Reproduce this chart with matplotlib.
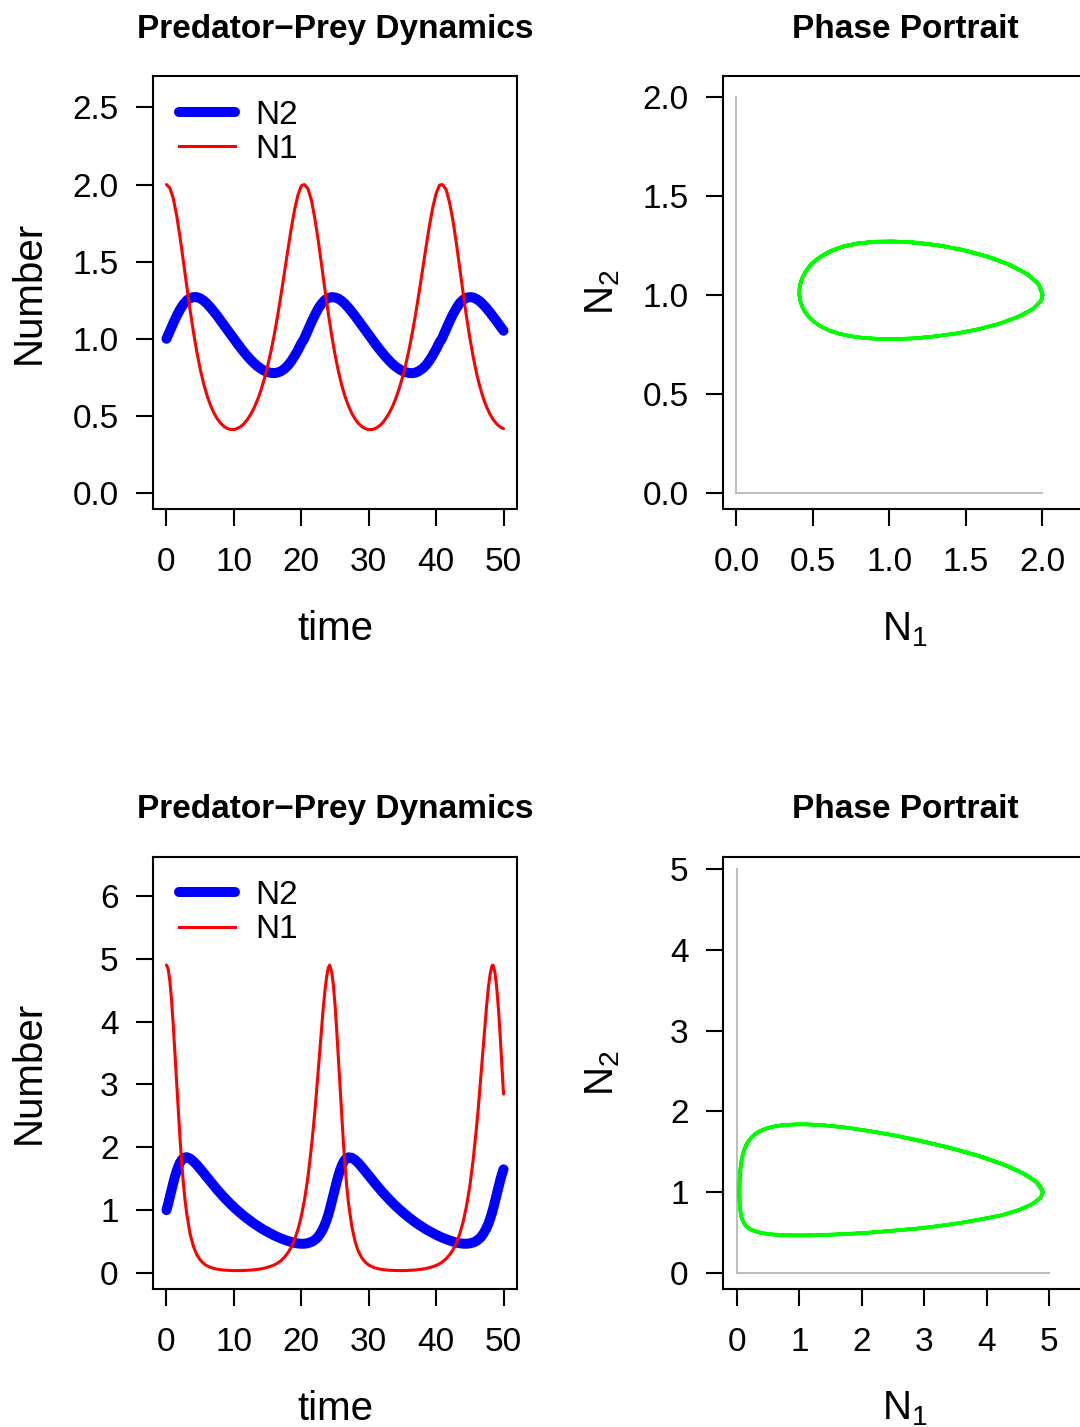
import matplotlib
matplotlib.use('Agg')
import matplotlib.pyplot as plt
from matplotlib.lines import Line2D

plt.rcParams['font.family'] = ['Liberation Sans', 'DejaVu Sans']
plt.rcParams['mathtext.fontset'] = 'custom'
plt.rcParams['mathtext.rm'] = 'Liberation Sans'
plt.rcParams['mathtext.it'] = 'Liberation Sans:italic'
plt.rcParams['mathtext.bf'] = 'Liberation Sans:bold'

# ---------------- data: top row (N1(0)=2, N2(0)=1) ----------------
top_time = [0, 0.5, 1, 1.5, 2, 2.5, 3, 3.5, 4, 4.5, 5, 5.5, 6, 6.5, 7, 7.5, 8, 8.5, 9, 9.5,
            10, 10.5, 11, 11.5, 12, 12.5, 13, 13.5, 14, 14.5, 15, 15.5, 16, 16.5, 17, 17.5,
            18, 18.5, 19, 19.5, 20, 20.43, 20.5,
            21, 21.5, 22, 22.5, 23, 23.5, 24, 24.5, 25, 25.5, 26, 26.5, 27, 27.5, 28, 28.5,
            29, 29.5, 30, 30.5, 31, 31.5, 32, 32.5, 33, 33.5, 34, 34.5, 35, 35.5, 36, 36.5,
            37, 37.5, 38, 38.5, 39, 39.5, 40, 40.5, 40.86,
            41, 41.5, 42, 42.5, 43, 43.5, 44, 44.5, 45, 45.5, 46, 46.5, 47, 47.5, 48, 48.5,
            49, 49.5, 50]
top_n1 = [2.000, 1.978, 1.911, 1.802, 1.662, 1.505, 1.343, 1.187, 1.043, 0.915,
          0.804, 0.711, 0.634, 0.572, 0.522, 0.483, 0.454, 0.433, 0.419, 0.412,
          0.411, 0.418, 0.430, 0.449, 0.476, 0.510, 0.552, 0.603, 0.665, 0.737,
          0.822, 0.919, 1.029, 1.153, 1.287, 1.430, 1.574, 1.713, 1.836, 1.932,
          1.992, 2.000, 1.999,
          1.972, 1.899, 1.784, 1.641, 1.482, 1.320, 1.166, 1.024, 0.898, 0.790,
          0.699, 0.624, 0.564, 0.516, 0.478, 0.450, 0.430, 0.417, 0.411, 0.411,
          0.419, 0.432, 0.452, 0.480, 0.515, 0.558, 0.611, 0.674, 0.748, 0.834,
          0.933, 1.046, 1.171, 1.307, 1.450, 1.594, 1.731, 1.851, 1.942, 1.996, 2.000,
          1.998, 1.966, 1.882, 1.766, 1.620, 1.460, 1.299, 1.146, 1.006, 0.883,
          0.776, 0.688, 0.615, 0.557, 0.510, 0.474, 0.447, 0.428, 0.417]
top_n2 = [1.000, 1.050, 1.100, 1.147, 1.189, 1.223, 1.248, 1.264, 1.270, 1.270,
          1.262, 1.248, 1.228, 1.204, 1.178, 1.150, 1.120, 1.090, 1.060, 1.030,
          1.000, 0.970, 0.941, 0.913, 0.887, 0.863, 0.841, 0.822, 0.806, 0.793,
          0.784, 0.779, 0.777, 0.781, 0.790, 0.805, 0.826, 0.854, 0.888, 0.926,
          0.970, 1.000, 1.007,
          1.057, 1.107, 1.153, 1.195, 1.227, 1.251, 1.264, 1.270, 1.268, 1.260,
          1.245, 1.225, 1.201, 1.174, 1.146, 1.116, 1.086, 1.056, 1.026, 0.996,
          0.966, 0.937, 0.910, 0.884, 0.860, 0.838, 0.819, 0.804, 0.791, 0.783,
          0.778, 0.777, 0.781, 0.792, 0.807, 0.829, 0.858, 0.893, 0.932, 0.977, 1.000,
          1.014, 1.064, 1.113, 1.159, 1.197, 1.231, 1.252, 1.266, 1.270, 1.268,
          1.257, 1.243, 1.221, 1.197, 1.170, 1.141, 1.112, 1.082, 1.052]

# ---------------- data: bottom row (N1(0)=4.9, N2(0)=1) ----------------
bot_time = [0.0, 0.25, 0.5, 0.75, 1.0, 1.25, 1.5, 1.75, 2.0, 2.25, 2.5, 2.75, 3.0,
            3.5, 4.0, 4.5, 5.0, 5.5, 6.0, 6.5, 7.0, 7.5, 8.0, 8.5, 9.0, 9.5,
            10.0, 10.5, 11.0, 11.5, 12.0, 12.5, 13.0, 13.5, 14.0, 14.5,
            15.0, 15.5, 16.0, 16.5, 17.0, 17.5, 18.0, 18.5, 19.0, 19.5,
            20.0, 20.5, 21.0, 21.5, 21.75, 22.0, 22.25, 22.5, 22.75, 23.0,
            23.25, 23.5, 23.75, 24.0, 24.2,
            24.5, 24.75, 25.0, 25.25, 25.5, 25.75, 26.0, 26.25, 26.5, 26.75, 27.0,
            27.5, 28.0, 28.5, 29.0, 29.5, 30.0, 30.5, 31.0, 31.5, 32.0,
            32.5, 33.0, 33.5, 34.0, 34.5, 35.0, 35.5, 36.0, 36.5, 37.0,
            37.5, 38.0, 38.5, 39.0, 39.5, 40.0, 40.5, 41.0, 41.5, 42.0,
            42.5, 43.0, 43.5, 44.0, 44.5, 45.0, 45.5, 45.75, 46.0, 46.25,
            46.5, 46.75, 47.0, 47.25, 47.5, 47.75, 48.0, 48.25, 48.4,
            48.5, 48.75, 49.0, 49.25, 49.5, 49.75, 50.0]
bot_n1 = [4.900, 4.839, 4.646, 4.346, 3.955, 3.506, 3.038, 2.588, 2.147, 1.768, 1.430, 1.161, 0.944,
          0.624, 0.422, 0.291, 0.208, 0.152, 0.115, 0.090, 0.073, 0.061, 0.053, 0.046, 0.043, 0.040,
          0.038, 0.038, 0.038, 0.040, 0.043, 0.046, 0.051, 0.058, 0.065, 0.076,
          0.091, 0.108, 0.129, 0.159, 0.197, 0.251, 0.319, 0.409, 0.530, 0.691,
          0.902, 1.178, 1.538, 2.003, 2.270, 2.555, 2.876, 3.204, 3.543, 3.871,
          4.213, 4.483, 4.707, 4.860, 4.900,
          4.801, 4.589, 4.271, 3.868, 3.411, 2.942, 2.498, 2.065, 1.696, 1.372, 1.114,
          0.736, 0.491, 0.337, 0.236, 0.171, 0.128, 0.099, 0.079, 0.065, 0.055,
          0.049, 0.044, 0.041, 0.039, 0.038, 0.038, 0.039, 0.042, 0.045, 0.048,
          0.055, 0.062, 0.071, 0.085, 0.101, 0.120, 0.146, 0.181, 0.228, 0.290,
          0.369, 0.477, 0.621, 0.811, 1.059, 1.383, 1.804, 2.056, 2.324, 2.616,
          2.941, 3.273, 3.607, 3.941, 4.266, 4.538, 4.745, 4.878, 4.900,
          4.890, 4.765, 4.533, 4.198, 3.781, 3.318, 2.849]
bot_n2 = [1.000, 1.102, 1.211, 1.321, 1.430, 1.530, 1.619, 1.694, 1.755, 1.798, 1.826, 1.839, 1.842,
          1.821, 1.776, 1.721, 1.658, 1.592, 1.524, 1.458, 1.392, 1.328, 1.267, 1.208, 1.153, 1.098,
          1.048, 0.997, 0.951, 0.906, 0.864, 0.824, 0.785, 0.750, 0.715, 0.683,
          0.654, 0.625, 0.596, 0.572, 0.549, 0.529, 0.510, 0.493, 0.479, 0.470,
          0.465, 0.466, 0.475, 0.494, 0.509, 0.527, 0.549, 0.578, 0.615, 0.659,
          0.709, 0.771, 0.843, 0.923, 1.000,
          1.124, 1.233, 1.343, 1.450, 1.549, 1.634, 1.707, 1.763, 1.805, 1.829, 1.840,
          1.833, 1.797, 1.745, 1.684, 1.619, 1.552, 1.484, 1.418, 1.354, 1.291,
          1.232, 1.175, 1.120, 1.067, 1.017, 0.969, 0.924, 0.881, 0.840, 0.799,
          0.764, 0.729, 0.695, 0.666, 0.637, 0.607, 0.582, 0.558, 0.537, 0.518,
          0.499, 0.485, 0.473, 0.467, 0.465, 0.471, 0.485, 0.496, 0.512, 0.533,
          0.554, 0.586, 0.623, 0.670, 0.721, 0.784, 0.859, 0.943, 1.000,
          1.039, 1.145, 1.255, 1.365, 1.471, 1.567, 1.649]

# reference guide lines drawn in the phase portraits (length of the grey L)
top_guide = [0.0, 2.0]
bot_guide = [0.0, 5.0]

# ticks
time_ticks = [0, 10, 20, 30, 40, 50]
top_ts_yticks = [0.0, 0.5, 1.0, 1.5, 2.0, 2.5]
top_ph_ticks = [0.0, 0.5, 1.0, 1.5, 2.0]
bot_ts_yticks = [0, 1, 2, 3, 4, 5, 6]
bot_ph_ticks = [0, 1, 2, 3, 4, 5]

titles = ['Predator\u2212Prey Dynamics', 'Phase Portrait']
legend_labels = ['N2', 'N1']

# ---------------- layout ----------------
FW, FH = 1080, 1427
fig = plt.figure(figsize=(FW / 100, FH / 100), dpi=100)

def pos(x0, ytop, w=364, h=433):
    return [x0 / FW, (FH - ytop - h) / FH, w / FW, h / FH]

TICK = 24
LAB = 29
LW_BOX = 1.5

def style(ax, xticks, xlabels, yticks, ylabels, xlim, ylim):
    ax.set_xlim(*xlim)
    ax.set_ylim(*ylim)
    ax.set_xticks(xticks)
    ax.set_xticklabels(xlabels)
    ax.set_yticks(yticks)
    ax.set_yticklabels(ylabels)
    ax.tick_params(direction='out', length=12.2, width=LW_BOX, labelsize=TICK,
                   color='black')
    ax.tick_params(axis='x', pad=15.5)
    ax.tick_params(axis='y', pad=12.5)
    for s in ax.spines.values():
        s.set_linewidth(LW_BOX)
        s.set_color('black')

def ts_panel(ax, t, n1, n2, yticks, yfmt, ylim):
    ax.plot(t, n2, color='#0000FF', lw=7.2, solid_capstyle='round', solid_joinstyle='round')
    ax.plot(t, n1, color='#FF0000', lw=2.2, solid_capstyle='round', solid_joinstyle='round')
    style(ax, time_ticks, [str(v) for v in time_ticks],
          yticks, [yfmt.format(v) for v in yticks], (-2, 52), ylim)
    ax.set_title(titles[0], fontsize=24, fontweight='bold', pad=27.5)
    ax.set_xlabel('time', fontsize=LAB, va='baseline')
    ax.xaxis.set_label_coords(0.5, -0.3025)
    ax.set_ylabel('Number', fontsize=LAB, va='center')
    ax.yaxis.set_label_coords(-0.340, 0.5)
    handles = [Line2D([], [], color='#0000FF', lw=7.2, solid_capstyle='round'),
               Line2D([], [], color='#FF0000', lw=2.2)]
    ax.legend(handles, legend_labels, loc='upper left', bbox_to_anchor=(0.052, 0.961),
              frameon=False, fontsize=TICK, handlelength=1.7, handletextpad=0.6,
              labelspacing=0.1, borderpad=0.2, borderaxespad=0)

def ph_panel(ax, n1, n2, guide, ticks, fmt, xlim, ylim):
    ax.plot([guide[0], guide[0]], guide, color='#BEBEBE', lw=1.5)
    ax.plot(guide, [guide[0], guide[0]], color='#BEBEBE', lw=1.5)
    ax.plot(n1, n2, color='#00FF00', lw=2.6, solid_joinstyle='round')
    style(ax, ticks, [fmt.format(v) for v in ticks], ticks, [fmt.format(v) for v in ticks],
          xlim, ylim)
    ax.set_title(titles[1], fontsize=24, fontweight='bold', pad=27.5)
    ax.set_xlabel(r'$\mathrm{N}_1$', fontsize=LAB, va='baseline')
    ax.xaxis.set_label_coords(0.5, -0.3025)
    ax.set_ylabel(r'$\mathrm{N}_2$', fontsize=LAB, va='center')
    ax.yaxis.set_label_coords(-0.33, 0.5)

ax1 = fig.add_axes(pos(153, 76))
ts_panel(ax1, top_time, top_n1, top_n2, top_ts_yticks, '{:.1f}', (-0.104, 2.704))

ax2 = fig.add_axes(pos(723, 76))
ph_panel(ax2, top_n1, top_n2, top_guide, top_ph_ticks, '{:.1f}',
         (-0.088, 2.291), (-0.081, 2.106))

ax3 = fig.add_axes(pos(153, 856.5, h=432.5))
ts_panel(ax3, bot_time, bot_n1, bot_n2, bot_ts_yticks, '{:d}', (-0.255, 6.629))

ax4 = fig.add_axes(pos(723, 856.5, h=432.5))
ph_panel(ax4, bot_n1, bot_n2, bot_guide, bot_ph_ticks, '{:d}',
         (-0.224, 5.609), (-0.198, 5.155))

fig.savefig('out.png', dpi=100)
